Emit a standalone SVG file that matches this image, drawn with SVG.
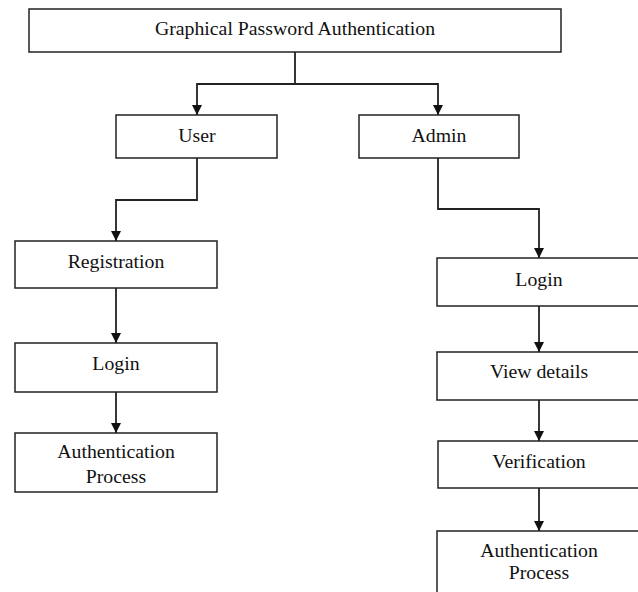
<svg xmlns="http://www.w3.org/2000/svg" width="638" height="592" viewBox="0 0 638 592">
<defs>
<marker id="ah" viewBox="0 0 10 10" refX="10" refY="5" markerWidth="10" markerHeight="10" markerUnits="userSpaceOnUse" orient="auto">
<path d="M0,0 L10,5 L0,10 Z" fill="#111"/>
</marker>
<style>
.box{fill:#fff;stroke:#222;stroke-width:1.5}
.t{font-family:"Liberation Serif","Times New Roman",serif;font-size:19.8px;fill:#111;text-anchor:middle}
.c{fill:none;stroke:#222;stroke-width:1.8}
</style>
</defs>
<rect width="638" height="592" fill="#fff"/>
<g id="root"><rect class="box" x="29" y="9" width="532" height="43"/><text class="t" x="295" y="35">Graphical Password Authentication</text></g>
<g id="user"><rect class="box" x="116" y="115" width="161" height="43"/><text class="t" x="197" y="142">User</text></g>
<g id="admin"><rect class="box" x="359" y="115" width="160" height="43"/><text class="t" x="439" y="142">Admin</text></g>
<g id="registration"><rect class="box" x="15" y="241" width="202" height="47"/><text class="t" x="116" y="268">Registration</text></g>
<g id="user-login"><rect class="box" x="15" y="343" width="202" height="49"/><text class="t" x="116" y="370">Login</text></g>
<g id="user-auth"><rect class="box" x="15" y="433" width="202" height="59"/><text class="t" x="116" y="458">Authentication</text><text class="t" x="116" y="483">Process</text></g>
<g id="admin-login"><rect class="box" x="437" y="258" width="205" height="48"/><text class="t" x="539" y="286">Login</text></g>
<g id="view-details"><rect class="box" x="437" y="352" width="205" height="48"/><text class="t" x="539" y="378">View details</text></g>
<g id="verification"><rect class="box" x="438" y="441" width="204" height="47"/><text class="t" x="539" y="468">Verification</text></g>
<g id="admin-auth"><rect class="box" x="437" y="531" width="205" height="70"/><text class="t" x="539" y="557">Authentication</text><text class="t" x="539" y="579">Process</text></g>
<g id="connectors">
<path class="c" d="M295,52 V84 H197 V115" marker-end="url(#ah)"/>
<path class="c" d="M295,84 H438 V115" marker-end="url(#ah)"/>
<path class="c" d="M197,158 V200 H116 V241" marker-end="url(#ah)"/>
<path class="c" d="M116,288 V343" marker-end="url(#ah)"/>
<path class="c" d="M116,392 V433" marker-end="url(#ah)"/>
<path class="c" d="M438,158 V209 H539 V258" marker-end="url(#ah)"/>
<path class="c" d="M539,306 V352" marker-end="url(#ah)"/>
<path class="c" d="M539,400 V441" marker-end="url(#ah)"/>
<path class="c" d="M539,488 V531" marker-end="url(#ah)"/>
</g>
</svg>
